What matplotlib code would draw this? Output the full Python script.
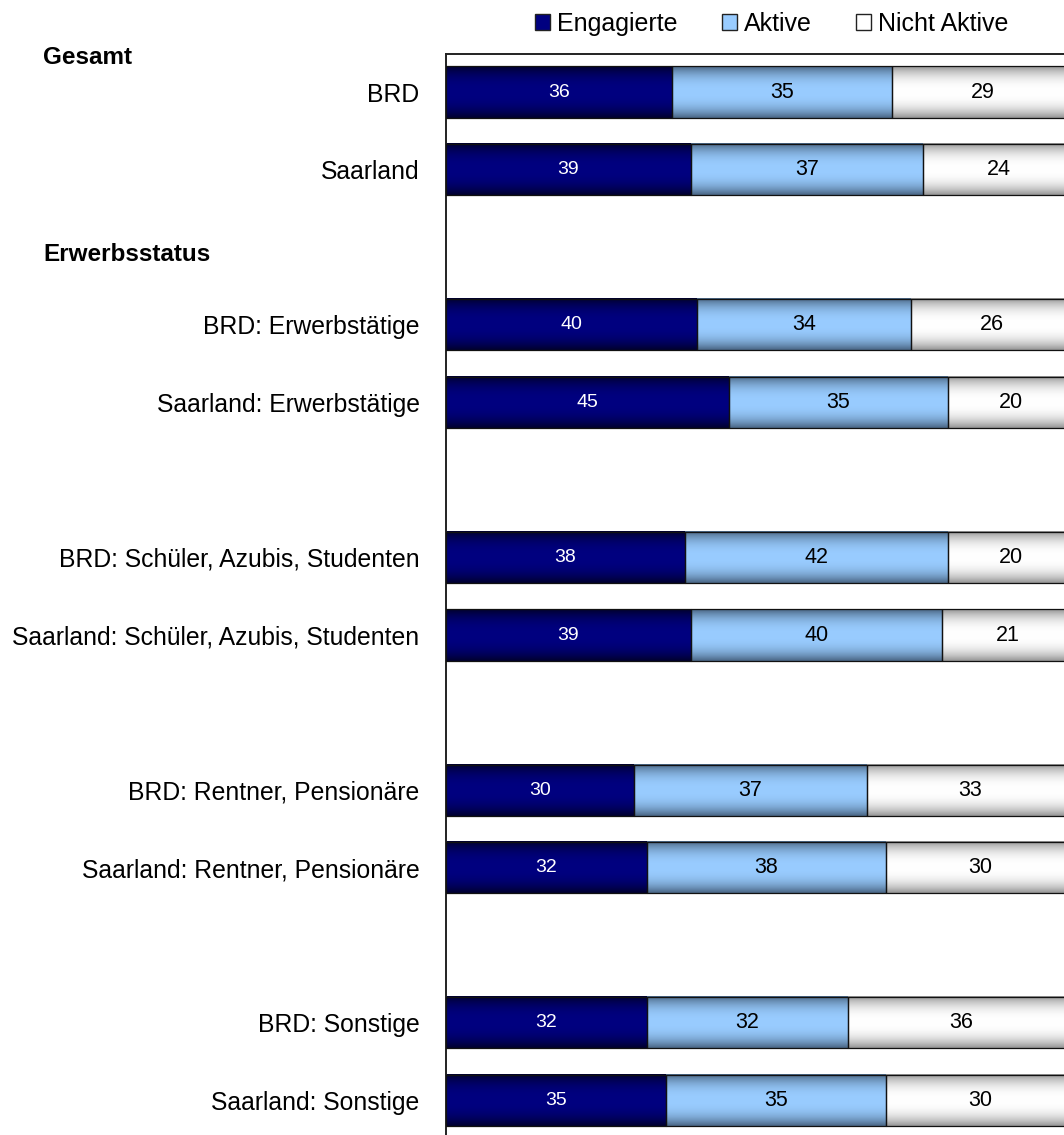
import numpy as np
import matplotlib
matplotlib.use("Agg")
import matplotlib.pyplot as plt
from matplotlib.patches import Patch
from matplotlib.colors import to_rgb
from matplotlib import transforms

plt.rcParams['font.family'] = ['Liberation Sans', 'DejaVu Sans']

# data
categories = ["BRD", "Saarland",
              "BRD: Erwerbstätige", "Saarland: Erwerbstätige",
              "BRD: Schüler, Azubis, Studenten", "Saarland: Schüler, Azubis, Studenten",
              "BRD: Rentner, Pensionäre", "Saarland: Rentner, Pensionäre",
              "BRD: Sonstige", "Saarland: Sonstige"]
engagierte = [36, 39, 40, 45, 38, 39, 30, 32, 32, 35]
aktive = [35, 37, 34, 35, 42, 40, 37, 38, 32, 35]
nicht_aktive = [29, 24, 26, 20, 20, 21, 33, 30, 36, 30]
series_names = ["Engagierte", "Aktive", "Nicht Aktive"]

# styles: (edge shade, center color) for the gradient fill
grad_colors = [("#00002e", "#000080"), ("#4a6684", "#99ccff"), ("#959595", "#ffffff")]
text_colors = ["white", "black", "black"]
text_sizes = [14, 15.5, 15.5]

# rows: pairs with an empty row between them
rows = []
for i in range(len(categories)):
    rows.append(i + i // 2)
rows = np.array(rows)

fig = plt.figure(figsize=(10.64, 11.35), dpi=100)
ax = fig.add_axes([446 / 1064, -5 / 1135, 628 / 1064, 1086 / 1135])

bar_h = 0.66
left = np.zeros(len(categories))
for k, vals in enumerate([engagierte, aktive, nicht_aktive]):
    vals = np.array(vals)
    bars = ax.barh(rows, vals, left=left, height=bar_h, facecolor='none',
                   edgecolor='#111111', linewidth=0.9, zorder=3)
    edge, center = np.array(to_rgb(grad_colors[k][0])), np.array(to_rgb(grad_colors[k][1]))
    t = np.abs(np.linspace(-1, 1, 64)) ** 2.5
    grad = (center[None, :] + (edge - center)[None, :] * t[:, None])[:, None, :]
    for b in bars:
        x0, y0, w, h = b.get_x(), b.get_y(), b.get_width(), b.get_height()
        ax.imshow(grad, extent=[x0, x0 + w, y0 + h, y0], aspect='auto',
                  interpolation='bilinear', zorder=2)
    for r, l, v in zip(rows, left, vals):
        ax.text(l + v / 2, r, str(v), ha='center', va='center',
                color=text_colors[k], fontsize=text_sizes[k], zorder=4)
    left = left + vals

ax.set_xlim(0, 100)
ax.set_ylim(13.51, -0.49)
ax.set_yticks(rows)
ax.set_yticklabels(categories, fontsize=17.8)
ax.tick_params(axis='y', length=0, pad=19)
ax.set_xticks([])
for s in ['right', 'bottom']:
    ax.spines[s].set_visible(False)
for s in ['left', 'top']:
    ax.spines[s].set_linewidth(1.4)
    ax.spines[s].set_color('#222222')

# group headers
trans = transforms.blended_transform_factory(fig.transFigure, ax.transData)
ax.text(43 / 1064, -0.45, "Gesamt", transform=trans, fontsize=17.5, fontweight='bold',
        ha='left', va='center')
ax.text(43 / 1064, 2.1, "Erwerbsstatus", transform=trans, fontsize=17.5, fontweight='bold',
        ha='left', va='center')

# legend
handles = [Patch(facecolor=grad_colors[k][1], edgecolor='#222222', linewidth=1)
           for k in range(3)]
fig.legend(handles, series_names, loc='center', bbox_to_anchor=(0.7253, 0.979),
           ncol=3, frameon=False, fontsize=18, handlelength=0.6, handleheight=0.6,
           handletextpad=0.25, columnspacing=1.8)

fig.savefig("out.png", dpi=100)
